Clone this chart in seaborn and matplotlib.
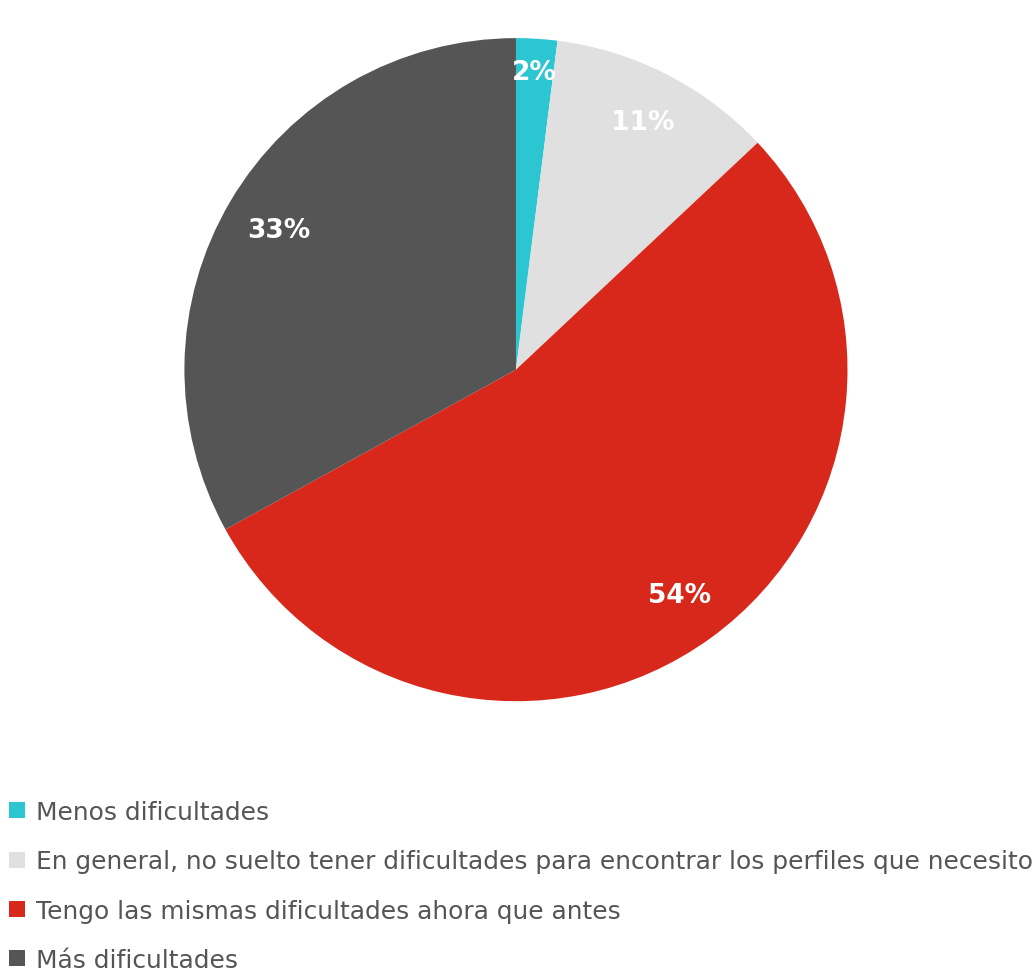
import matplotlib
matplotlib.use("Agg")
import matplotlib.pyplot as plt
import seaborn as sns
import numpy as np

categorias = [
    "Menos dificultades",
    "En general, no suelto tener dificultades para encontrar los perfiles que necesito",
    "Tengo las mismas dificultades ahora que antes",
    "Más dificultades",
]
porcentajes = [2, 11, 54, 33]
cores = ["#2cc5d2", "#e0e0e0", "#d8281b", "#555555"]
dist_rotulos = [0.90, 0.84, 0.84, 0.83]

sns.set_theme(style="white")
plt.rcParams["font.family"] = ["DejaVu Sans"]

fig = plt.figure(figsize=(10.34, 9.78), dpi=100)
ax = fig.add_axes([0.178, 0.282, 0.642, 0.678])

fatias, _ = ax.pie(
    porcentajes,
    colors=cores,
    startangle=90,
    counterclock=False,
    radius=1,
    wedgeprops={"linewidth": 0},
)
ax.set_xlim(-1, 1)
ax.set_ylim(-1, 1)
ax.set_aspect("equal")

# rótulos de percentagem dentro das fatias
inicio = 90
for valor, dist in zip(porcentajes, dist_rotulos):
    meio = inicio - valor * 360 / 100 / 2
    ang = np.deg2rad(meio)
    ax.text(dist * np.cos(ang), dist * np.sin(ang), f"{valor}%",
            color="white", fontsize=19, fontweight="bold",
            ha="center", va="center")
    inicio -= valor * 360 / 100

fig.legend(
    fatias, categorias,
    loc="upper left", bbox_to_anchor=(0.004, 0.186),
    frameon=False, fontsize=17.9, labelcolor="#555555",
    handlelength=0.62, handleheight=0.62, handletextpad=0.45,
    labelspacing=1.02, borderaxespad=0, borderpad=0.2,
)

fig.savefig("out.png", dpi=100)
